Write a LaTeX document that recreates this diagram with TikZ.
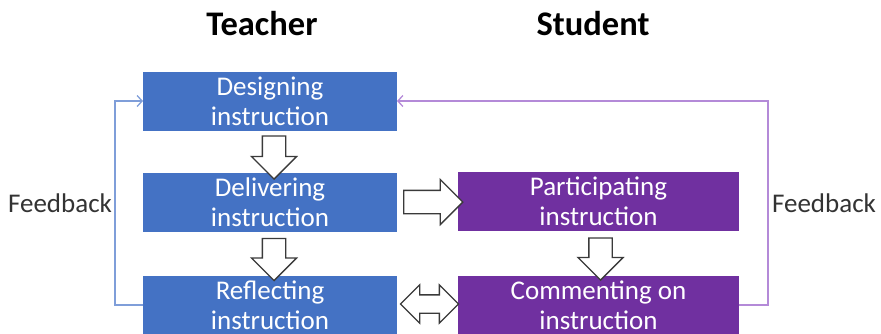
\documentclass[tikz,border=0pt]{standalone}
\usepackage{fontspec}
\setmainfont{Carlito}
\usetikzlibrary{shapes.arrows,arrows.meta,calc}

\definecolor{teachblue}{HTML}{4472C4}
\definecolor{studpurple}{HTML}{7030A0}
\definecolor{fbblue}{HTML}{7F9ED9}
\definecolor{fbpurple}{HTML}{B48AD8}
\definecolor{arrgray}{HTML}{3A3A3A}

\tikzset{
  stage/.style={rectangle, fill=#1, text=white, align=center, inner sep=0pt, outer sep=0pt,
                minimum height=59pt, font=\fontsize{27}{30}\selectfont},
  colhead/.style={font=\fontsize{34.5}{38}\selectfont\bfseries},
  fblabel/.style={text=black!80, font=\fontsize{27}{30}\selectfont},
  fbline/.style={line width=1.3pt, -{Straight Barb[length=5pt,width=11pt]}},
  blockarrow/.style={single arrow, draw=arrgray, fill=white, line width=1.3pt, outer sep=0pt,
                     inner sep=11pt, single arrow head extend=11pt, minimum height=#1},
  bothways/.style={double arrow, draw=arrgray, fill=white, line width=1.3pt, outer sep=0pt,
                   inner sep=8.5pt, double arrow head extend=10pt, minimum height=#1}
}

\begin{document}
\begin{tikzpicture}[x=1pt,y=-1pt]
  \useasboundingbox (0,0) rectangle (881,333);
  \clip (0,0) rectangle (881,333);

  % column heads
  \node[colhead] (teacher) at (262,24) {Teacher};
  \node[colhead] (student) at (593,24) {Student};

  % teacher side
  \node[stage=teachblue, minimum width=254pt] (design)  at (270,101) {Designing\\instruction};
  \node[stage=teachblue, minimum width=254pt] (deliver) at (270,202.5) {Delivering\\instruction};
  \node[stage=teachblue, minimum width=254pt] (reflect) at (270,305) {Reflecting\\instruction};

  % student side
  \node[stage=studpurple, minimum width=281pt] (partic)  at (598.5,201.5) {Participating\\instruction};
  \node[stage=studpurple, minimum width=281pt] (comment) at (598.5,305) {Commenting on\\instruction};

  % block arrows between the stages
  \node[blockarrow=43pt, rotate=-90] (d2d) at ($(design.south)!0.5!(deliver.north)+(4,0)$) {};
  \node[blockarrow=42pt, rotate=-90] (d2r) at ($(deliver.south)!0.5!(reflect.north)+(4,0)$) {};
  \node[blockarrow=42pt, rotate=-90] (p2c) at ($(partic.south)!0.5!(comment.north)+(2,0)$) {};
  \node[blockarrow=59pt] (d2p) at ($(deliver.east)!0.5!(partic.west)$) {};
  \node[bothways=58pt] (r2c) at ($(reflect.east)!0.5!(comment.west)+(2,-1)$) {};

  % feedback loops
  \draw[fbline, fbblue] (reflect.west) -- ++(-28,0) |- (design.west);
  \draw[fbline, fbpurple] (comment.east) -- ++(29,0) |- (design.east);
  \node[fblabel] (fbteach) at (60,203) {Feedback};
  \node[fblabel] (fbstud) at (824,203) {Feedback};
\end{tikzpicture}
\end{document}
